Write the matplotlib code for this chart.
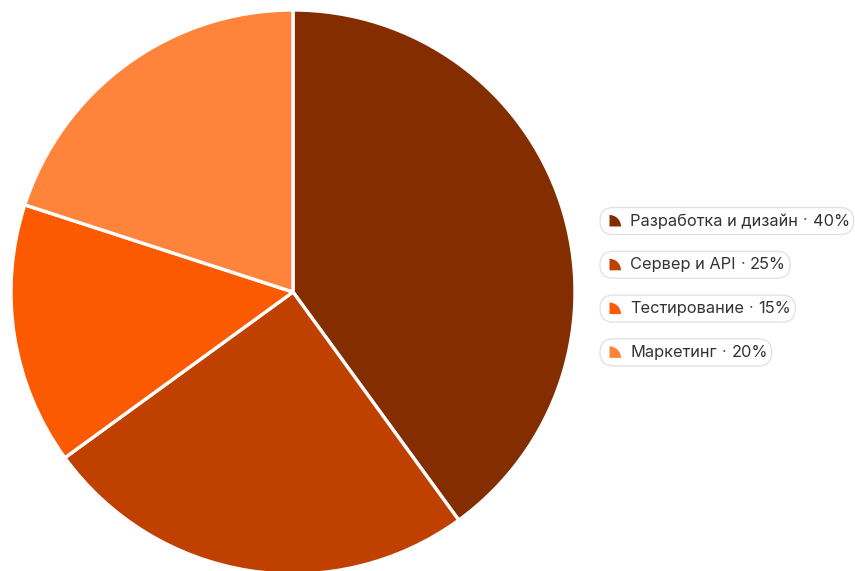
import matplotlib.pyplot as plt
from matplotlib.patches import FancyBboxPatch, Wedge

labels = ["Разработка и дизайн", "Сервер и API", "Тестирование", "Маркетинг"]
values = [40, 25, 15, 20]
colors = ["#832d00", "#c04000", "#fb5a00", "#fe833b"]

plt.rcParams['font.family'] = ['Inter', 'DejaVu Sans']

fig = plt.figure(figsize=(8.55, 5.71), dpi=100)

# pie, centre about (293, 292) px, radius 282 px
W, H = 855, 571
cx, cy, r = 293, 292, 282
ax = fig.add_axes([(cx - r) / W, (H - cy - r) / H, 2 * r / W, 2 * r / H])
ax.pie(values, colors=colors, startangle=90, counterclock=False,
       wedgeprops=dict(edgecolor="white", linewidth=2.4, joinstyle="round"))
ax.set_xlim(-1, 1)
ax.set_ylim(-1, 1)
ax.set_aspect("equal")

# legend drawn in pixel coordinates
lax = fig.add_axes([0, 0, 1, 1])
lax.set_xlim(0, W)
lax.set_ylim(H, 0)
lax.axis("off")

def px_right(t):
    fig.canvas.draw()
    return lax.transData.inverted().transform(t.get_window_extent().p1)[0]

y0, step = 221, 43.8
fs = 11.8
gap = 5
for i, (lab, val, col) in enumerate(zip(labels, values, colors)):
    yc = y0 + i * step
    t = lax.text(630, yc, lab, fontsize=fs, color="#333333", va="center", ha="left")
    xe = px_right(t)
    d = lax.text(xe + gap, yc, "·", fontsize=fs, color="#555555", va="center", ha="left")
    xe = px_right(d)
    v = lax.text(xe + gap, yc, f"{val}%", fontsize=fs, color="#333333", va="center", ha="left")
    xe = px_right(v)
    box = FancyBboxPatch((600, yc - 13.5), xe + 4 - 600, 27,
                         boxstyle="round,pad=0,rounding_size=13.5",
                         facecolor="white", edgecolor="#e3e3e3", linewidth=1.0)
    lax.add_patch(box)
    lax.add_patch(Wedge((609.5, yc + 5.5), 11.5, 270, 360, facecolor=col, edgecolor="none"))

fig.savefig("out.png", dpi=100)
